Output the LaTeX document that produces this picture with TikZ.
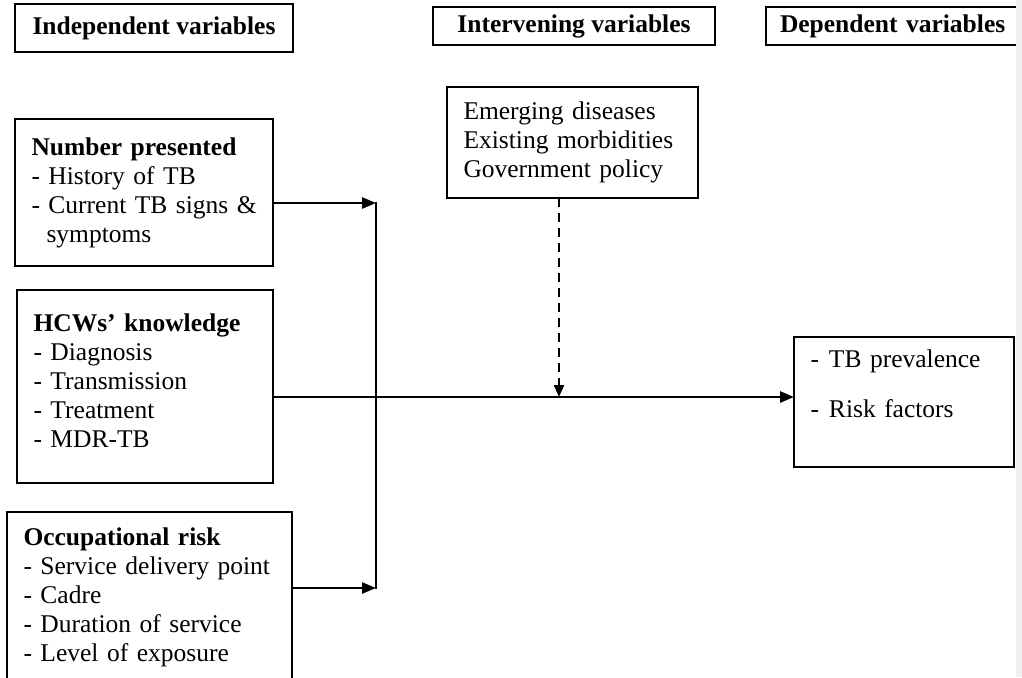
\documentclass[tikz,border=0pt]{standalone}
\usepackage{fontspec}
\setmainfont{Liberation Serif}
\usetikzlibrary{arrows.meta}
\tikzset{varbox/.style={draw,line width=1.6pt,outer sep=0pt,inner xsep=16.5pt,inner ysep=0pt,
   align=left,anchor=north west,font=\fontsize{25.5}{29}\selectfont},
 headbox/.style={draw,line width=1.6pt,outer sep=0pt,inner sep=0pt,anchor=north west,
   font=\fontsize{25.5}{29}\selectfont\bfseries},
 link/.style={line width=2.6pt,-{Triangle[length=14pt,width=11pt]}},
 plainlink/.style={line width=2.6pt},
 dashlink/.style={line width=2.2pt,dash pattern=on 9pt off 6pt,-{Triangle[length=12pt,width=10pt]}},
 }

\begin{document}
\begin{tikzpicture}[x=1pt,y=-1pt]
    \useasboundingbox (0,0) rectangle (1022,677);
    % headings
    \node[headbox,minimum width=278pt,minimum height=48pt] (indep) at (15,4) {Independent variables};
    \node[headbox,minimum width=282pt,minimum height=38pt] (interv) at (433,7) {Intervening variables};
    \node[headbox,minimum width=264pt,minimum height=38pt,text width=264pt,inner xsep=14pt,align=left] (dep) at (766,7) {Dependent variables};
    % boxes
    \node[varbox,text width=225pt,minimum height=147pt] (num) at (15,119)
        {\textbf{Number presented}\\- History of TB\\\mbox{- Current TB signs \&}\\\hspace*{15pt}symptoms};
    \node[varbox,text width=223pt,minimum height=193pt] (hcw) at (17,290)
        {\textbf{HCWs’ knowledge}\\- Diagnosis\\- Transmission\\- Treatment\\- MDR-TB\\[-17pt]\mbox{}};
    \node[varbox,text width=252pt,minimum height=170pt] (occ) at (7,512)
        {\textbf{Occupational risk}\\\mbox{- Service delivery point}\\- Cadre\\- Duration of service\\- Level of exposure};
    \node[varbox,text width=218pt,minimum height=111pt] (intv) at (447,87)
        {Emerging diseases\\\mbox{Existing morbidities}\\Government policy};
    \node[varbox,text width=187pt,minimum height=130pt] (outc) at (794,337)
        {-\hspace{10pt}TB prevalence\\[21pt]-\hspace{10pt}Risk factors\\\strut};
    % connectors
    \coordinate (jtop) at (376,203);
    \coordinate (jbot) at (376,588);
    \coordinate (hit) at (559,397);
    \draw[link] (num.east |- jtop) -- (jtop);
    \draw[link] (occ.east |- jbot) -- (jbot);
    \draw[plainlink,line cap=rect] (jtop) -- (jbot);
    \draw[link] (hcw.east |- hit) -- (outc.west |- hit);
    \draw[dashlink] (intv.south -| hit) -- (hit);
    % page edge
    \fill[black!6] (1016,0) rectangle (1022,677);
\end{tikzpicture}
\end{document}
